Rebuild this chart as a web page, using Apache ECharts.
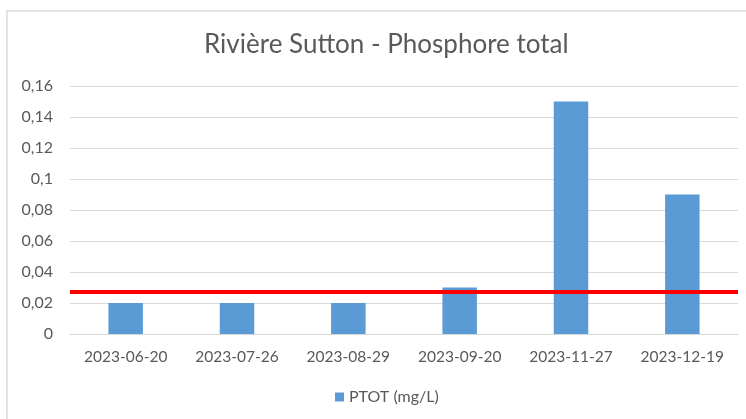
<!DOCTYPE html>
<html>
<head>
<meta charset="utf-8">
<script src="https://cdn.jsdelivr.net/npm/echarts@6/dist/echarts.min.js"></script>
<style>
  html, body { margin: 0; padding: 0; background: #fff; }
  #chart { width: 746px; height: 419px; }
</style>
</head>
<body>
<div id="chart"></div>
<script>
// Rivière Sutton - Phosphore total

const dates = ['2023-06-20', '2023-07-26', '2023-08-29', '2023-09-20', '2023-11-27', '2023-12-19'];
const ptot = [0.02, 0.02, 0.02, 0.03, 0.15, 0.09];
const seuil = 0.027; // ligne rouge (critère)
const yTicks = [0, 0.02, 0.04, 0.06, 0.08, 0.1, 0.12, 0.14, 0.16];

const FONT = 'Lato, "Open Sans", sans-serif';
const TEXT = '#595959';

const chart = echarts.init(document.getElementById('chart'));

chart.setOption({
  animation: false,
  backgroundColor: '#fff',
  graphic: [{
    type: 'rect',
    shape: { x: 7, y: 11, width: 760, height: 430 },
    style: { fill: 'none', stroke: '#d9d9d9', lineWidth: 1.5 },
    silent: true
  }],
  title: {
    text: 'Rivière Sutton - Phosphore total',
    left: 199,
    top: 27,
    textStyle: { fontFamily: FONT, fontSize: 26, fontWeight: 'normal', color: TEXT }
  },
  legend: {
    left: 335,
    top: 389,
    padding: 0,
    icon: 'rect',
    itemWidth: 9,
    itemHeight: 9,
    textStyle: { fontFamily: FONT, fontSize: 16, color: TEXT }
  },
  grid: { left: 70, right: 8, top: 86, bottom: 85 },
  xAxis: {
    type: 'category',
    data: dates,
    axisLine: { lineStyle: { color: '#d9d9d9' } },
    axisTick: { show: false },
    axisLabel: { interval: 0, fontFamily: FONT, fontSize: 15.5, color: TEXT, margin: 15 }
  },
  yAxis: {
    type: 'value',
    min: yTicks[0],
    max: yTicks[yTicks.length - 1],
    interval: 0.02,
    axisLine: { show: false },
    axisTick: { show: false },
    splitLine: { lineStyle: { color: '#d9d9d9', width: 1 } },
    axisLabel: {
      fontFamily: FONT, fontSize: 16, color: TEXT, margin: 17,
      formatter: v => String(Math.round(v * 100) / 100).replace('.', ',')
    }
  },
  series: [{
    name: 'PTOT (mg/L)',
    type: 'bar',
    data: ptot,
    barWidth: '31%',
    itemStyle: { color: '#5b9bd5' },
    markLine: {
      silent: true,
      symbol: 'none',
      precision: 4,
      label: { show: false },
      lineStyle: { color: '#ff0000', width: 4, type: 'solid' },
      data: [{ yAxis: seuil }]
    }
  }]
});
</script>
</body>
</html>
